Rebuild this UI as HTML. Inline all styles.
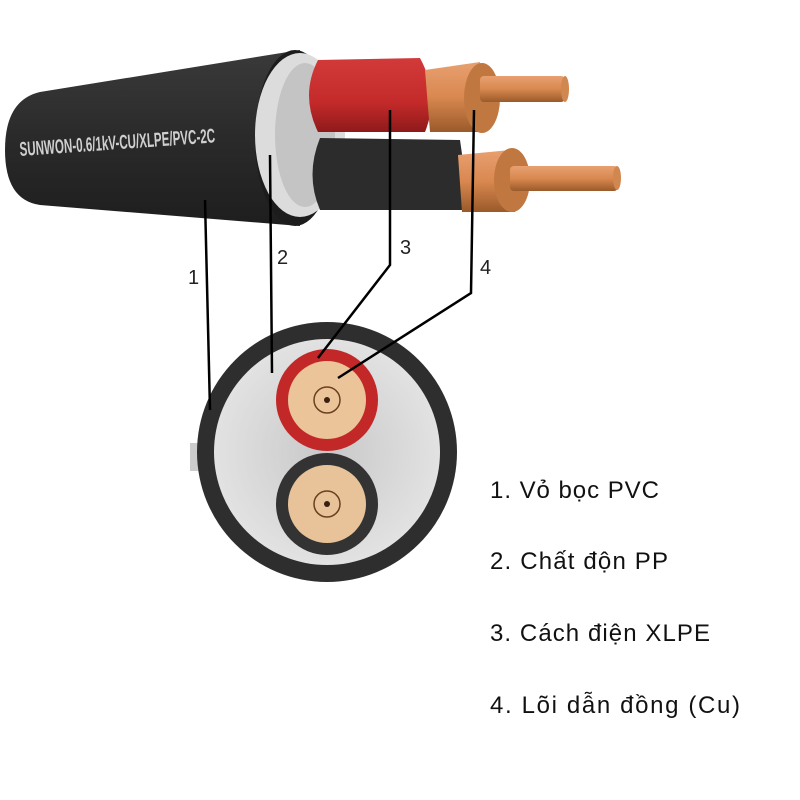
<!DOCTYPE html>
<html><head><meta charset="utf-8"><style>
html,body{margin:0;padding:0;background:#fff;width:800px;height:800px;overflow:hidden}
svg{display:block}
</style></head><body>
<svg width="800" height="800" viewBox="0 0 800 800" xmlns="http://www.w3.org/2000/svg">
<defs>
<linearGradient id="jk" x1="0" y1="0" x2="0" y2="1">
<stop offset="0" stop-color="#3a3a3a"/><stop offset="0.5" stop-color="#2a2a2a"/><stop offset="1" stop-color="#1e1e1e"/></linearGradient>
<linearGradient id="rd" x1="0" y1="0" x2="0" y2="1">
<stop offset="0" stop-color="#d23a3a"/><stop offset="0.6" stop-color="#c42a2a"/><stop offset="1" stop-color="#8e1a1a"/></linearGradient>
<linearGradient id="cu" x1="0" y1="0" x2="0" y2="1">
<stop offset="0" stop-color="#e8a070"/><stop offset="0.5" stop-color="#d98850"/><stop offset="1" stop-color="#9a5a2a"/></linearGradient>
<radialGradient id="gf" cx="0.5" cy="0.5" r="0.5">
<stop offset="0" stop-color="#c8c8c8"/><stop offset="1" stop-color="#e2e2e2"/></radialGradient>
</defs>
<path d="M40,92 L300,50 L300,226 L40,205 Q5,200 5,150 Q5,100 40,92 Z" fill="url(#jk)"/>
<ellipse cx="295" cy="138" rx="40" ry="88" fill="#1c1c1c"/>
<ellipse cx="300" cy="135" rx="45" ry="82" fill="#dcdcdc"/>
<ellipse cx="305" cy="135" rx="30" ry="72" fill="#c4c4c4"/>
<path d="M320,138 L460,140 L470,210 L320,210 Q305,175 320,138 Z" fill="#2c2c2c"/>
<path d="M318,60 L420,58 Q440,95 425,132 L318,132 Q300,95 318,60 Z" fill="url(#rd)"/>
<path d="M425,70 L480,62 L485,132 L430,132 Z" fill="url(#cu)"/>
<ellipse cx="482" cy="98" rx="18" ry="35" fill="#c07840"/>
<rect x="480" y="76" width="85" height="26" rx="4" fill="url(#cu)"/>
<ellipse cx="565" cy="89" rx="4" ry="13" fill="#d08850"/>
<path d="M458,155 L510,150 L515,212 L462,212 Z" fill="url(#cu)"/>
<ellipse cx="512" cy="180" rx="18" ry="32" fill="#c07840"/>
<rect x="510" y="166" width="108" height="25" rx="4" fill="url(#cu)"/>
<ellipse cx="617" cy="178" rx="4" ry="12" fill="#d08850"/>
<text x="20" y="156" font-family="Liberation Sans Narrow, Liberation Sans, sans-serif" font-size="20" font-weight="bold" fill="#cfcfcf" transform="rotate(-4 20 156)" textLength="196" lengthAdjust="spacingAndGlyphs">SUNWON-0.6/1kV-CU/XLPE/PVC-2C</text>
<rect x="190" y="443" width="10" height="28" fill="#ccc"/>
<circle cx="327" cy="452" r="130" fill="#2e2e2e"/>
<circle cx="327" cy="452" r="113" fill="url(#gf)"/>
<circle cx="327" cy="400" r="51" fill="#c22828"/>
<circle cx="327" cy="400" r="39" fill="#ebc49a"/>
<circle cx="327" cy="504" r="51" fill="#333"/>
<circle cx="327" cy="504" r="39" fill="#e8c298"/>
<g fill="#3a2010">
<circle cx="327" cy="400" r="3"/><circle cx="327" cy="504" r="3"/>
</g>
<g stroke="#6a4020" stroke-width="1.5" fill="none">
<circle cx="327" cy="400" r="13"/><circle cx="327" cy="504" r="13"/>
</g>
<g stroke="#000" stroke-width="2.5" fill="none">
<line x1="205" y1="200" x2="210" y2="410"/>
<line x1="270" y1="155" x2="272" y2="373"/>
<polyline points="390,110 390,265 318,358"/>
<polyline points="474,110 471,293 338,378"/>
</g>
<g font-family="Liberation Sans, sans-serif" font-size="20" fill="#222">
<text x="188" y="284">1</text>
<text x="277" y="264">2</text>
<text x="400" y="254">3</text>
<text x="480" y="274">4</text>
</g>
<g font-family="Liberation Sans, sans-serif" font-size="24" fill="#111" lengthAdjust="spacingAndGlyphs">
<text x="490" y="498" textLength="169">1. Vỏ bọc PVC</text>
<text x="490" y="569" textLength="178">2. Chất độn PP</text>
<text x="490" y="641" textLength="220">3. Cách điện XLPE</text>
<text x="490" y="713" textLength="250">4. Lõi dẫn đồng (Cu)</text>
</g>
</svg>
</body></html>
